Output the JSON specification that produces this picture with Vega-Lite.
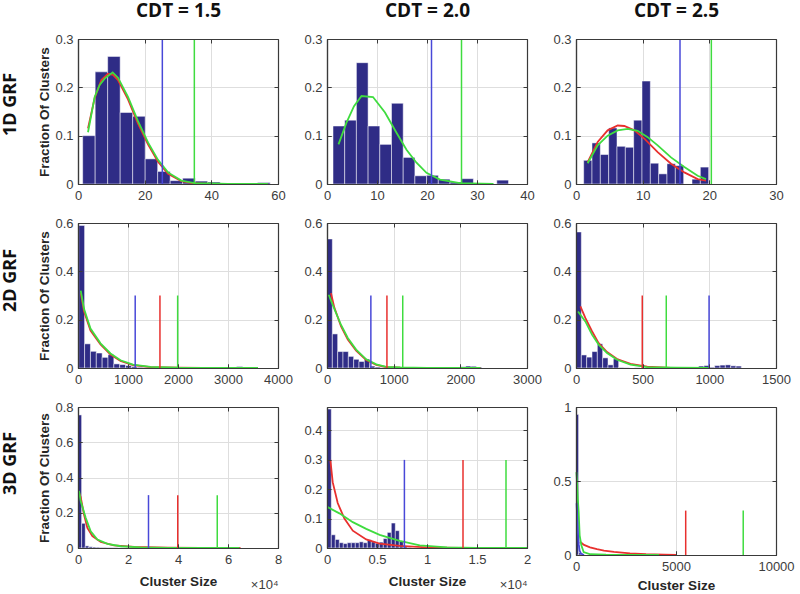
{
"$schema": "https://vega.github.io/schema/vega-lite/v6.json",
"background": "white",
"padding": {"left": 1, "top": 1, "right": 0, "bottom": 0},
"columns": 3,
"bounds": "flush",
"align": "each",
"center": {"row": true},
"spacing": {"row": 39, "column": 49},
"datasets": {
"bars": [
{"p":"A1","x0":1.4,"x1":5.15,"f":0.100},{"p":"A1","x0":5.15,"x1":8.9,"f":0.232},{"p":"A1","x0":8.9,"x1":12.65,"f":0.264},{"p":"A1","x0":12.65,"x1":16.4,"f":0.148},{"p":"A1","x0":16.4,"x1":20.15,"f":0.140},{"p":"A1","x0":20.15,"x1":23.9,"f":0.052},{"p":"A1","x0":23.9,"x1":27.65,"f":0.026},{"p":"A1","x0":27.65,"x1":31.4,"f":0.007},{"p":"A1","x0":31.4,"x1":35.15,"f":0.012},{"p":"A1","x0":35.15,"x1":38.9,"f":0.006},{"p":"A1","x0":38.9,"x1":42.65,"f":0.004},{"p":"A1","x0":42.65,"x1":46.4,"f":0.001},{"p":"A1","x0":46.4,"x1":50.15,"f":0.002},{"p":"A1","x0":53.9,"x1":57.65,"f":0.003},
{"p":"A2","x0":1.2,"x1":3.54,"f":0.120},{"p":"A2","x0":3.54,"x1":5.88,"f":0.132},{"p":"A2","x0":5.88,"x1":8.22,"f":0.251},{"p":"A2","x0":8.22,"x1":10.56,"f":0.120},{"p":"A2","x0":10.56,"x1":12.9,"f":0.082},{"p":"A2","x0":12.9,"x1":15.24,"f":0.167},{"p":"A2","x0":15.24,"x1":17.58,"f":0.055},{"p":"A2","x0":17.58,"x1":19.92,"f":0.017},{"p":"A2","x0":19.92,"x1":22.26,"f":0.018},{"p":"A2","x0":22.26,"x1":24.6,"f":0.010},{"p":"A2","x0":24.6,"x1":26.94,"f":0.004},{"p":"A2","x0":26.94,"x1":29.28,"f":0.011},{"p":"A2","x0":29.28,"x1":31.62,"f":0.002},{"p":"A2","x0":33.96,"x1":36.3,"f":0.008},
{"p":"A3","x0":1.15,"x1":2.4,"f":0.049},{"p":"A3","x0":2.4,"x1":3.65,"f":0.085},{"p":"A3","x0":3.65,"x1":4.9,"f":0.061},{"p":"A3","x0":4.9,"x1":6.15,"f":0.116},{"p":"A3","x0":6.15,"x1":7.4,"f":0.078},{"p":"A3","x0":7.4,"x1":8.65,"f":0.076},{"p":"A3","x0":8.65,"x1":9.9,"f":0.132},{"p":"A3","x0":9.9,"x1":11.15,"f":0.213},{"p":"A3","x0":11.15,"x1":12.4,"f":0.043},{"p":"A3","x0":12.4,"x1":13.65,"f":0.021},{"p":"A3","x0":13.65,"x1":14.9,"f":0.042},{"p":"A3","x0":14.9,"x1":16.15,"f":0.038},{"p":"A3","x0":17.4,"x1":18.65,"f":0.010},{"p":"A3","x0":18.65,"x1":19.9,"f":0.035},
{"p":"B1","x0":15,"x1":132,"f":0.59},{"p":"B1","x0":132,"x1":249,"f":0.100},{"p":"B1","x0":249,"x1":366,"f":0.069},{"p":"B1","x0":366,"x1":483,"f":0.062},{"p":"B1","x0":483,"x1":600,"f":0.044},{"p":"B1","x0":600,"x1":717,"f":0.055},{"p":"B1","x0":717,"x1":834,"f":0.017},{"p":"B1","x0":834,"x1":951,"f":0.014},{"p":"B1","x0":951,"x1":1068,"f":0.010},{"p":"B1","x0":1068,"x1":1185,"f":0.006},{"p":"B1","x0":1185,"x1":1302,"f":0.003},{"p":"B1","x0":1302,"x1":1419,"f":0.002},{"p":"B1","x0":1419,"x1":1536,"f":0.001},{"p":"B1","x0":1536,"x1":1653,"f":0.001},{"p":"B1","x0":1653,"x1":1770,"f":0.001},{"p":"B1","x0":1887,"x1":2004,"f":0.001},{"p":"B1","x0":2121,"x1":2238,"f":0.004},{"p":"B1","x0":2238,"x1":2355,"f":0.003},{"p":"B1","x0":2355,"x1":2472,"f":0.001},{"p":"B1","x0":2706,"x1":2823,"f":0.001},{"p":"B1","x0":3057,"x1":3174,"f":0.001},{"p":"B1","x0":3174,"x1":3291,"f":0.006},{"p":"B1","x0":3291,"x1":3408,"f":0.002},{"p":"B1","x0":3408,"x1":3525,"f":0.001},
{"p":"B2","x0":0,"x1":80,"f":0.534},{"p":"B2","x0":80,"x1":160,"f":0.141},{"p":"B2","x0":160,"x1":240,"f":0.068},{"p":"B2","x0":240,"x1":320,"f":0.068},{"p":"B2","x0":320,"x1":400,"f":0.048},{"p":"B2","x0":400,"x1":480,"f":0.036},{"p":"B2","x0":480,"x1":560,"f":0.027},{"p":"B2","x0":560,"x1":640,"f":0.037},{"p":"B2","x0":640,"x1":720,"f":0.008},{"p":"B2","x0":720,"x1":800,"f":0.004},{"p":"B2","x0":800,"x1":880,"f":0.002},{"p":"B2","x0":880,"x1":960,"f":0.003},{"p":"B2","x0":960,"x1":1040,"f":0.001},{"p":"B2","x0":1040,"x1":1120,"f":0.001},{"p":"B2","x0":1200,"x1":1280,"f":0.001},{"p":"B2","x0":1440,"x1":1520,"f":0.001},{"p":"B2","x0":1760,"x1":1840,"f":0.003},{"p":"B2","x0":1840,"x1":1920,"f":0.001},{"p":"B2","x0":1920,"x1":2000,"f":0.002},{"p":"B2","x0":2000,"x1":2080,"f":0.005},{"p":"B2","x0":2080,"x1":2160,"f":0.008},{"p":"B2","x0":2160,"x1":2240,"f":0.007},{"p":"B2","x0":2240,"x1":2320,"f":0.004},
{"p":"B3","x0":0,"x1":40,"f":0.563},{"p":"B3","x0":40,"x1":80,"f":0.054},{"p":"B3","x0":80,"x1":120,"f":0.045},{"p":"B3","x0":120,"x1":160,"f":0.068},{"p":"B3","x0":160,"x1":200,"f":0.100},{"p":"B3","x0":200,"x1":240,"f":0.042},{"p":"B3","x0":240,"x1":280,"f":0.013},{"p":"B3","x0":280,"x1":320,"f":0.038},{"p":"B3","x0":320,"x1":360,"f":0.002},{"p":"B3","x0":360,"x1":400,"f":0.001},{"p":"B3","x0":440,"x1":480,"f":0.001},{"p":"B3","x0":600,"x1":640,"f":0.001},{"p":"B3","x0":920,"x1":960,"f":0.008},{"p":"B3","x0":960,"x1":1000,"f":0.010},{"p":"B3","x0":1000,"x1":1040,"f":0.003},{"p":"B3","x0":1040,"x1":1080,"f":0.010},{"p":"B3","x0":1080,"x1":1120,"f":0.012},{"p":"B3","x0":1120,"x1":1160,"f":0.013},{"p":"B3","x0":1160,"x1":1200,"f":0.009},{"p":"B3","x0":1200,"x1":1240,"f":0.008},
{"p":"C1","x0":0,"x1":1450,"f":0.755},{"p":"C1","x0":1450,"x1":2900,"f":0.140},{"p":"C1","x0":2900,"x1":4350,"f":0.012},{"p":"C1","x0":4350,"x1":5800,"f":0.007},{"p":"C1","x0":5800,"x1":7250,"f":0.005},{"p":"C1","x0":7250,"x1":8700,"f":0.004},{"p":"C1","x0":8700,"x1":10150,"f":0.003},{"p":"C1","x0":10150,"x1":11600,"f":0.003},{"p":"C1","x0":11600,"x1":13050,"f":0.002},{"p":"C1","x0":13050,"x1":14500,"f":0.002},{"p":"C1","x0":14500,"x1":15950,"f":0.002},{"p":"C1","x0":15950,"x1":17400,"f":0.001},{"p":"C1","x0":17400,"x1":18850,"f":0.001},{"p":"C1","x0":43500,"x1":44950,"f":0.002},
{"p":"C2","x0":30,"x1":430,"f":0.473},{"p":"C2","x0":430,"x1":830,"f":0.045},{"p":"C2","x0":830,"x1":1230,"f":0.029},{"p":"C2","x0":1230,"x1":1630,"f":0.018},{"p":"C2","x0":1630,"x1":2030,"f":0.015},{"p":"C2","x0":2030,"x1":2430,"f":0.018},{"p":"C2","x0":2430,"x1":2830,"f":0.018},{"p":"C2","x0":2830,"x1":3230,"f":0.018},{"p":"C2","x0":3230,"x1":3630,"f":0.021},{"p":"C2","x0":3630,"x1":4030,"f":0.018},{"p":"C2","x0":4030,"x1":4430,"f":0.028},{"p":"C2","x0":4430,"x1":4830,"f":0.021},{"p":"C2","x0":4830,"x1":5230,"f":0.016},{"p":"C2","x0":5230,"x1":5630,"f":0.020},{"p":"C2","x0":5630,"x1":6030,"f":0.032},{"p":"C2","x0":6030,"x1":6430,"f":0.053},{"p":"C2","x0":6430,"x1":6830,"f":0.085},{"p":"C2","x0":6830,"x1":7230,"f":0.059},{"p":"C2","x0":7230,"x1":7630,"f":0.024},{"p":"C2","x0":7630,"x1":8030,"f":0.005},{"p":"C2","x0":8030,"x1":8430,"f":0.002},
{"p":"C3","x0":0,"x1":130,"f":0.95},{"p":"C3","x0":130,"x1":260,"f":0.015},{"p":"C3","x0":260,"x1":390,"f":0.005}
],
"curves": [
{"p":"A1","s":"red","x":3,"y":0.115},{"p":"A1","s":"red","x":5,"y":0.178},{"p":"A1","s":"red","x":7,"y":0.215},{"p":"A1","s":"red","x":9,"y":0.228},{"p":"A1","s":"red","x":10.5,"y":0.226},{"p":"A1","s":"red","x":12,"y":0.215},{"p":"A1","s":"red","x":15,"y":0.175},{"p":"A1","s":"red","x":18,"y":0.125},{"p":"A1","s":"red","x":21,"y":0.082},{"p":"A1","s":"red","x":24,"y":0.046},{"p":"A1","s":"red","x":27,"y":0.021},{"p":"A1","s":"red","x":31,"y":0.006},{"p":"A1","s":"red","x":35,"y":0.001},{"p":"A1","s":"red","x":40,"y":0},{"p":"A1","s":"red","x":57,"y":0},
{"p":"A1","s":"green","x":3,"y":0.107},{"p":"A1","s":"green","x":5,"y":0.18},{"p":"A1","s":"green","x":6.5,"y":0.205},{"p":"A1","s":"green","x":8,"y":0.218},{"p":"A1","s":"green","x":10.4,"y":0.231},{"p":"A1","s":"green","x":12,"y":0.22},{"p":"A1","s":"green","x":15,"y":0.18},{"p":"A1","s":"green","x":18,"y":0.13},{"p":"A1","s":"green","x":21,"y":0.086},{"p":"A1","s":"green","x":24,"y":0.05},{"p":"A1","s":"green","x":27,"y":0.024},{"p":"A1","s":"green","x":31,"y":0.007},{"p":"A1","s":"green","x":35,"y":0.002},{"p":"A1","s":"green","x":40,"y":0.001},{"p":"A1","s":"green","x":45,"y":0},{"p":"A1","s":"green","x":57,"y":0},
{"p":"A2","s":"green","x":2.3,"y":0.082},{"p":"A2","s":"green","x":3.9,"y":0.127},{"p":"A2","s":"green","x":5.4,"y":0.161},{"p":"A2","s":"green","x":6.9,"y":0.182},{"p":"A2","s":"green","x":9.2,"y":0.18},{"p":"A2","s":"green","x":11.6,"y":0.148},{"p":"A2","s":"green","x":13.9,"y":0.106},{"p":"A2","s":"green","x":15.9,"y":0.071},{"p":"A2","s":"green","x":17.9,"y":0.044},{"p":"A2","s":"green","x":19.9,"y":0.023},{"p":"A2","s":"green","x":22.6,"y":0.009},{"p":"A2","s":"green","x":26.6,"y":0.002},{"p":"A2","s":"green","x":33.3,"y":0},
{"p":"A3","s":"red","x":1.75,"y":0.045},{"p":"A3","s":"red","x":3.25,"y":0.087},{"p":"A3","s":"red","x":4.75,"y":0.111},{"p":"A3","s":"red","x":6.25,"y":0.121},{"p":"A3","s":"red","x":7.25,"y":0.12},{"p":"A3","s":"red","x":8.75,"y":0.111},{"p":"A3","s":"red","x":10.25,"y":0.094},{"p":"A3","s":"red","x":12.25,"y":0.066},{"p":"A3","s":"red","x":14.25,"y":0.042},{"p":"A3","s":"red","x":16.25,"y":0.024},{"p":"A3","s":"red","x":18.25,"y":0.01},{"p":"A3","s":"red","x":19.5,"y":0.007},
{"p":"A3","s":"green","x":1.75,"y":0.043},{"p":"A3","s":"green","x":3.25,"y":0.08},{"p":"A3","s":"green","x":4.75,"y":0.1},{"p":"A3","s":"green","x":6.25,"y":0.111},{"p":"A3","s":"green","x":7.75,"y":0.114},{"p":"A3","s":"green","x":9.25,"y":0.11},{"p":"A3","s":"green","x":10.75,"y":0.097},{"p":"A3","s":"green","x":12.25,"y":0.08},{"p":"A3","s":"green","x":14.25,"y":0.055},{"p":"A3","s":"green","x":16.25,"y":0.035},{"p":"A3","s":"green","x":18.25,"y":0.017},{"p":"A3","s":"green","x":19.5,"y":0.01},
{"p":"B1","s":"red","x":55,"y":0.31},{"p":"B1","s":"red","x":120,"y":0.235},{"p":"B1","s":"red","x":250,"y":0.155},{"p":"B1","s":"red","x":450,"y":0.098},{"p":"B1","s":"red","x":650,"y":0.056},{"p":"B1","s":"red","x":850,"y":0.029},{"p":"B1","s":"red","x":1100,"y":0.012},{"p":"B1","s":"red","x":1450,"y":0.004},{"p":"B1","s":"red","x":2000,"y":0.001},{"p":"B1","s":"red","x":2500,"y":0},{"p":"B1","s":"red","x":3600,"y":0},
{"p":"B1","s":"green","x":55,"y":0.32},{"p":"B1","s":"green","x":120,"y":0.245},{"p":"B1","s":"green","x":250,"y":0.163},{"p":"B1","s":"green","x":450,"y":0.102},{"p":"B1","s":"green","x":650,"y":0.06},{"p":"B1","s":"green","x":850,"y":0.032},{"p":"B1","s":"green","x":1100,"y":0.014},{"p":"B1","s":"green","x":1450,"y":0.005},{"p":"B1","s":"green","x":2000,"y":0.001},{"p":"B1","s":"green","x":2500,"y":0},{"p":"B1","s":"green","x":3600,"y":0},
{"p":"B2","s":"red","x":60,"y":0.31},{"p":"B2","s":"red","x":110,"y":0.25},{"p":"B2","s":"red","x":211,"y":0.172},{"p":"B2","s":"red","x":312,"y":0.118},{"p":"B2","s":"red","x":437,"y":0.072},{"p":"B2","s":"red","x":588,"y":0.033},{"p":"B2","s":"red","x":739,"y":0.013},{"p":"B2","s":"red","x":889,"y":0.004},{"p":"B2","s":"red","x":1100,"y":0.001},{"p":"B2","s":"red","x":1500,"y":0},{"p":"B2","s":"red","x":2300,"y":0},
{"p":"B2","s":"green","x":25,"y":0.303},{"p":"B2","s":"green","x":110,"y":0.245},{"p":"B2","s":"green","x":211,"y":0.178},{"p":"B2","s":"green","x":312,"y":0.124},{"p":"B2","s":"green","x":437,"y":0.076},{"p":"B2","s":"green","x":588,"y":0.036},{"p":"B2","s":"green","x":739,"y":0.015},{"p":"B2","s":"green","x":889,"y":0.005},{"p":"B2","s":"green","x":1100,"y":0.002},{"p":"B2","s":"green","x":1500,"y":0},{"p":"B2","s":"green","x":2300,"y":0},
{"p":"B3","s":"red","x":33,"y":0.255},{"p":"B3","s":"red","x":70,"y":0.207},{"p":"B3","s":"red","x":120,"y":0.152},{"p":"B3","s":"red","x":170,"y":0.103},{"p":"B3","s":"red","x":233,"y":0.066},{"p":"B3","s":"red","x":308,"y":0.037},{"p":"B3","s":"red","x":409,"y":0.017},{"p":"B3","s":"red","x":534,"y":0.006},{"p":"B3","s":"red","x":710,"y":0},{"p":"B3","s":"red","x":1000,"y":0},
{"p":"B3","s":"green","x":15,"y":0.234},{"p":"B3","s":"green","x":70,"y":0.193},{"p":"B3","s":"green","x":120,"y":0.138},{"p":"B3","s":"green","x":170,"y":0.097},{"p":"B3","s":"green","x":233,"y":0.062},{"p":"B3","s":"green","x":308,"y":0.034},{"p":"B3","s":"green","x":409,"y":0.014},{"p":"B3","s":"green","x":534,"y":0.004},{"p":"B3","s":"green","x":750,"y":0.001},{"p":"B3","s":"green","x":1000,"y":0},
{"p":"C1","s":"red","x":500,"y":0.31},{"p":"C1","s":"red","x":1070,"y":0.29},{"p":"C1","s":"red","x":2400,"y":0.19},{"p":"C1","s":"red","x":3750,"y":0.114},{"p":"C1","s":"red","x":5750,"y":0.067},{"p":"C1","s":"red","x":9100,"y":0.034},{"p":"C1","s":"red","x":14400,"y":0.015},{"p":"C1","s":"red","x":22500,"y":0.006},{"p":"C1","s":"red","x":36000,"y":0.002},{"p":"C1","s":"red","x":49000,"y":0},{"p":"C1","s":"red","x":65000,"y":0},
{"p":"C1","s":"green","x":400,"y":0.324},{"p":"C1","s":"green","x":1070,"y":0.267},{"p":"C1","s":"green","x":3080,"y":0.171},{"p":"C1","s":"green","x":5080,"y":0.095},{"p":"C1","s":"green","x":7760,"y":0.048},{"p":"C1","s":"green","x":11800,"y":0.023},{"p":"C1","s":"green","x":17100,"y":0.01},{"p":"C1","s":"green","x":25000,"y":0.004},{"p":"C1","s":"green","x":36000,"y":0.001},{"p":"C1","s":"green","x":50000,"y":0},{"p":"C1","s":"green","x":64600,"y":0},
{"p":"C2","s":"red","x":335,"y":0.3},{"p":"C2","s":"red","x":570,"y":0.224},{"p":"C2","s":"red","x":1070,"y":0.153},{"p":"C2","s":"red","x":1740,"y":0.1},{"p":"C2","s":"red","x":2580,"y":0.059},{"p":"C2","s":"red","x":3920,"y":0.029},{"p":"C2","s":"red","x":5260,"y":0.015},{"p":"C2","s":"red","x":7270,"y":0.007},{"p":"C2","s":"red","x":9950,"y":0.002},{"p":"C2","s":"red","x":13300,"y":0},{"p":"C2","s":"red","x":20000,"y":0},
{"p":"C2","s":"green","x":70,"y":0.139},{"p":"C2","s":"green","x":1240,"y":0.118},{"p":"C2","s":"green","x":2580,"y":0.088},{"p":"C2","s":"green","x":3920,"y":0.065},{"p":"C2","s":"green","x":5260,"y":0.045},{"p":"C2","s":"green","x":7270,"y":0.024},{"p":"C2","s":"green","x":9280,"y":0.009},{"p":"C2","s":"green","x":12000,"y":0.002},{"p":"C2","s":"green","x":15000,"y":0},{"p":"C2","s":"green","x":20000,"y":0},
{"p":"C3","s":"red","x":200,"y":0.09},{"p":"C3","s":"red","x":400,"y":0.068},{"p":"C3","s":"red","x":700,"y":0.052},{"p":"C3","s":"red","x":1050,"y":0.04},{"p":"C3","s":"red","x":1400,"y":0.03},{"p":"C3","s":"red","x":1900,"y":0.021},{"p":"C3","s":"red","x":2700,"y":0.011},{"p":"C3","s":"red","x":3500,"y":0.005},{"p":"C3","s":"red","x":4400,"y":0.002},{"p":"C3","s":"red","x":5000,"y":0},
{"p":"C3","s":"green","x":20,"y":0.56},{"p":"C3","s":"green","x":50,"y":0.5},{"p":"C3","s":"green","x":90,"y":0.38},{"p":"C3","s":"green","x":133,"y":0.29},{"p":"C3","s":"green","x":183,"y":0.133},{"p":"C3","s":"green","x":267,"y":0.065},{"p":"C3","s":"green","x":383,"y":0.02},{"p":"C3","s":"green","x":717,"y":0.005},{"p":"C3","s":"green","x":1500,"y":0.002},{"p":"C3","s":"green","x":4150,"y":0},
{"p":"C3","s":"blue","x":30,"y":0.35},{"p":"C3","s":"blue","x":60,"y":0.25},{"p":"C3","s":"blue","x":100,"y":0.14},{"p":"C3","s":"blue","x":140,"y":0.07},{"p":"C3","s":"blue","x":180,"y":0.03},{"p":"C3","s":"blue","x":250,"y":0.01},{"p":"C3","s":"blue","x":400,"y":0}
],
"vlines": [
{"p":"A1","c":"blue","x":25.3},{"p":"A1","c":"green","x":34.9},
{"p":"A2","c":"blue","x":20.9},{"p":"A2","c":"green","x":26.9},
{"p":"A3","c":"blue","x":15.6},{"p":"A3","c":"green","x":20.3},
{"p":"B1","c":"blue","x":1144},{"p":"B1","c":"red","x":1639},{"p":"B1","c":"green","x":1993},
{"p":"B2","c":"blue","x":658},{"p":"B2","c":"red","x":899},{"p":"B2","c":"green","x":1136},
{"p":"B3","c":"red","x":497},{"p":"B3","c":"green","x":677},{"p":"B3","c":"blue","x":998},
{"p":"C1","c":"blue","x":28200},{"p":"C1","c":"red","x":39900},{"p":"C1","c":"green","x":55700},
{"p":"C2","c":"blue","x":7740},{"p":"C2","c":"red","x":13600},{"p":"C2","c":"green","x":17900},
{"p":"C3","c":"red","x":5485},{"p":"C3","c":"green","x":8361}
]
},
"concat": [
{"width":200,"height":145,
 "title":{"text":"1D GRF","orient":"left","anchor":"middle","frame":"group","font":"Open Sans","fontSize":18,"fontWeight":"bold","color":"#111111","offset":18,"dx":7},
 "resolve":{"axis":{"x":"independent","y":"independent"}},
 "layer":[
  {"data":{"name":"bars"},"transform":[{"filter":"datum.p == 'A1'"}],"mark":{"type":"rect","fill":"#2f2c86","stroke":"#ffffff","strokeWidth":0.5},
   "encoding":{"x":{"field":"x0","type":"quantitative","scale":{"domain":[0,60],"nice":false,"zero":false},"axis":{"orient":"bottom","values":[0,20,40,60],"labelExpr":"'' + datum.value","grid":true,"title":null}},"x2":{"field":"x1"},
    "y":{"field":"f","type":"quantitative","scale":{"domain":[0,0.3],"nice":false},"axis":{"orient":"left","values":[0,0.1,0.2,0.3],"labelExpr":"'' + datum.value","grid":true,"title":"Fraction Of Clusters"}},"y2":{"datum":0}}},
  {"data":{"name":"curves"},"transform":[{"filter":"datum.p == 'A1'"}],"mark":{"type":"line","strokeWidth":1.8},
   "encoding":{"x":{"field":"x","type":"quantitative","scale":{"domain":[0,60],"nice":false,"zero":false},"axis":{"orient":"top","values":[0,20,40,60],"labels":false,"grid":false,"zindex":1,"title":"CDT = 1.5","titleFont":"Open Sans","titleFontSize":19,"titleColor":"#111111","titlePadding":18}},
    "y":{"field":"y","type":"quantitative","scale":{"domain":[0,0.3],"nice":false},"axis":{"orient":"right","values":[0,0.1,0.2,0.3],"labels":false,"grid":false,"zindex":1,"title":null}},
    "color":{"field":"s","type":"nominal","scale":{"domain":["red","green","blue"],"range":["#e8302e","#3fdc3f","#4848d8"]},"legend":null}}},
  {"data":{"name":"vlines"},"transform":[{"filter":"datum.p == 'A1'"}],"mark":{"type":"rule","strokeWidth":1.5},
   "encoding":{"x":{"field":"x","type":"quantitative","scale":{"domain":[0,60],"nice":false,"zero":false},"axis":{"orient":"bottom","values":[0,20,40,60],"labels":false,"grid":false,"zindex":1,"title":null}},
    "y":{"datum":0,"type":"quantitative","scale":{"domain":[0,0.3],"nice":false},"axis":{"orient":"left","values":[0,0.1,0.2,0.3],"labels":false,"grid":false,"zindex":1,"title":null}},"y2":{"datum":0.3},
    "color":{"field":"c","type":"nominal","scale":{"domain":["red","green","blue"],"range":["#e8302e","#3fdc3f","#4848d8"]},"legend":null}}}
 ]},
{"width":200,"height":145,
 "resolve":{"axis":{"x":"independent","y":"independent"}},
 "layer":[
  {"data":{"name":"bars"},"transform":[{"filter":"datum.p == 'A2'"}],"mark":{"type":"rect","fill":"#2f2c86","stroke":"#ffffff","strokeWidth":0.5},
   "encoding":{"x":{"field":"x0","type":"quantitative","scale":{"domain":[0,40],"nice":false,"zero":false},"axis":{"orient":"bottom","values":[0,10,20,30,40],"labelExpr":"'' + datum.value","grid":true,"title":null}},"x2":{"field":"x1"},
    "y":{"field":"f","type":"quantitative","scale":{"domain":[0,0.3],"nice":false},"axis":{"orient":"left","values":[0,0.1,0.2,0.3],"labelExpr":"'' + datum.value","grid":true,"title":null}},"y2":{"datum":0}}},
  {"data":{"name":"curves"},"transform":[{"filter":"datum.p == 'A2'"}],"mark":{"type":"line","strokeWidth":1.8},
   "encoding":{"x":{"field":"x","type":"quantitative","scale":{"domain":[0,40],"nice":false,"zero":false},"axis":{"orient":"top","values":[0,10,20,30,40],"labels":false,"grid":false,"zindex":1,"title":"CDT = 2.0","titleFont":"Open Sans","titleFontSize":19,"titleColor":"#111111","titlePadding":18}},
    "y":{"field":"y","type":"quantitative","scale":{"domain":[0,0.3],"nice":false},"axis":{"orient":"right","values":[0,0.1,0.2,0.3],"labels":false,"grid":false,"zindex":1,"title":null}},
    "color":{"field":"s","type":"nominal","scale":{"domain":["red","green","blue"],"range":["#e8302e","#3fdc3f","#4848d8"]},"legend":null}}},
  {"data":{"name":"vlines"},"transform":[{"filter":"datum.p == 'A2'"}],"mark":{"type":"rule","strokeWidth":1.5},
   "encoding":{"x":{"field":"x","type":"quantitative","scale":{"domain":[0,40],"nice":false,"zero":false},"axis":{"orient":"bottom","values":[0,10,20,30,40],"labels":false,"grid":false,"zindex":1,"title":null}},
    "y":{"datum":0,"type":"quantitative","scale":{"domain":[0,0.3],"nice":false},"axis":{"orient":"left","values":[0,0.1,0.2,0.3],"labels":false,"grid":false,"zindex":1,"title":null}},"y2":{"datum":0.3},
    "color":{"field":"c","type":"nominal","scale":{"domain":["red","green","blue"],"range":["#e8302e","#3fdc3f","#4848d8"]},"legend":null}}}
 ]},
{"width":200,"height":145,
 "resolve":{"axis":{"x":"independent","y":"independent"}},
 "layer":[
  {"data":{"name":"bars"},"transform":[{"filter":"datum.p == 'A3'"}],"mark":{"type":"rect","fill":"#2f2c86","stroke":"#ffffff","strokeWidth":0.5},
   "encoding":{"x":{"field":"x0","type":"quantitative","scale":{"domain":[0,30],"nice":false,"zero":false},"axis":{"orient":"bottom","values":[0,10,20,30],"labelExpr":"'' + datum.value","grid":true,"title":null}},"x2":{"field":"x1"},
    "y":{"field":"f","type":"quantitative","scale":{"domain":[0,0.3],"nice":false},"axis":{"orient":"left","values":[0,0.1,0.2,0.3],"labelExpr":"'' + datum.value","grid":true,"title":null}},"y2":{"datum":0}}},
  {"data":{"name":"curves"},"transform":[{"filter":"datum.p == 'A3'"}],"mark":{"type":"line","strokeWidth":1.8},
   "encoding":{"x":{"field":"x","type":"quantitative","scale":{"domain":[0,30],"nice":false,"zero":false},"axis":{"orient":"top","values":[0,10,20,30],"labels":false,"grid":false,"zindex":1,"title":"CDT = 2.5","titleFont":"Open Sans","titleFontSize":19,"titleColor":"#111111","titlePadding":18}},
    "y":{"field":"y","type":"quantitative","scale":{"domain":[0,0.3],"nice":false},"axis":{"orient":"right","values":[0,0.1,0.2,0.3],"labels":false,"grid":false,"zindex":1,"title":null}},
    "color":{"field":"s","type":"nominal","scale":{"domain":["red","green","blue"],"range":["#e8302e","#3fdc3f","#4848d8"]},"legend":null}}},
  {"data":{"name":"vlines"},"transform":[{"filter":"datum.p == 'A3'"}],"mark":{"type":"rule","strokeWidth":1.5},
   "encoding":{"x":{"field":"x","type":"quantitative","scale":{"domain":[0,30],"nice":false,"zero":false},"axis":{"orient":"bottom","values":[0,10,20,30],"labels":false,"grid":false,"zindex":1,"title":null}},
    "y":{"datum":0,"type":"quantitative","scale":{"domain":[0,0.3],"nice":false},"axis":{"orient":"left","values":[0,0.1,0.2,0.3],"labels":false,"grid":false,"zindex":1,"title":null}},"y2":{"datum":0.3},
    "color":{"field":"c","type":"nominal","scale":{"domain":["red","green","blue"],"range":["#e8302e","#3fdc3f","#4848d8"]},"legend":null}}}
 ]},
{"width":200,"height":145,
 "title":{"text":"2D GRF","orient":"left","anchor":"middle","frame":"group","font":"Open Sans","fontSize":18,"fontWeight":"bold","color":"#111111","offset":18,"dx":15},
 "resolve":{"axis":{"x":"independent","y":"independent"}},
 "layer":[
  {"data":{"name":"bars"},"transform":[{"filter":"datum.p == 'B1'"}],"mark":{"type":"rect","fill":"#2f2c86","stroke":"#ffffff","strokeWidth":0.5},
   "encoding":{"x":{"field":"x0","type":"quantitative","scale":{"domain":[0,4000],"nice":false,"zero":false},"axis":{"orient":"bottom","values":[0,1000,2000,3000,4000],"labelExpr":"'' + datum.value","grid":true,"title":null}},"x2":{"field":"x1"},
    "y":{"field":"f","type":"quantitative","scale":{"domain":[0,0.6],"nice":false},"axis":{"orient":"left","values":[0,0.2,0.4,0.6],"labelExpr":"'' + datum.value","grid":true,"title":"Fraction Of Clusters"}},"y2":{"datum":0}}},
  {"data":{"name":"curves"},"transform":[{"filter":"datum.p == 'B1'"}],"mark":{"type":"line","strokeWidth":1.8},
   "encoding":{"x":{"field":"x","type":"quantitative","scale":{"domain":[0,4000],"nice":false,"zero":false},"axis":{"orient":"top","values":[0,1000,2000,3000,4000],"labels":false,"grid":false,"zindex":1,"title":null}},
    "y":{"field":"y","type":"quantitative","scale":{"domain":[0,0.6],"nice":false},"axis":{"orient":"right","values":[0,0.2,0.4,0.6],"labels":false,"grid":false,"zindex":1,"title":null}},
    "color":{"field":"s","type":"nominal","scale":{"domain":["red","green","blue"],"range":["#e8302e","#3fdc3f","#4848d8"]},"legend":null}}},
  {"data":{"name":"vlines"},"transform":[{"filter":"datum.p == 'B1'"}],"mark":{"type":"rule","strokeWidth":1.5},
   "encoding":{"x":{"field":"x","type":"quantitative","scale":{"domain":[0,4000],"nice":false,"zero":false},"axis":{"orient":"bottom","values":[0,1000,2000,3000,4000],"labels":false,"grid":false,"zindex":1,"title":null}},
    "y":{"datum":0,"type":"quantitative","scale":{"domain":[0,0.6],"nice":false},"axis":{"orient":"left","values":[0,0.2,0.4,0.6],"labels":false,"grid":false,"zindex":1,"title":null}},"y2":{"datum":0.3},
    "color":{"field":"c","type":"nominal","scale":{"domain":["red","green","blue"],"range":["#e8302e","#3fdc3f","#4848d8"]},"legend":null}}}
 ]},
{"width":200,"height":145,
 "resolve":{"axis":{"x":"independent","y":"independent"}},
 "layer":[
  {"data":{"name":"bars"},"transform":[{"filter":"datum.p == 'B2'"}],"mark":{"type":"rect","fill":"#2f2c86","stroke":"#ffffff","strokeWidth":0.5},
   "encoding":{"x":{"field":"x0","type":"quantitative","scale":{"domain":[0,3000],"nice":false,"zero":false},"axis":{"orient":"bottom","values":[0,1000,2000,3000],"labelExpr":"'' + datum.value","grid":true,"title":null}},"x2":{"field":"x1"},
    "y":{"field":"f","type":"quantitative","scale":{"domain":[0,0.6],"nice":false},"axis":{"orient":"left","values":[0,0.2,0.4,0.6],"labelExpr":"'' + datum.value","grid":true,"title":null}},"y2":{"datum":0}}},
  {"data":{"name":"curves"},"transform":[{"filter":"datum.p == 'B2'"}],"mark":{"type":"line","strokeWidth":1.8},
   "encoding":{"x":{"field":"x","type":"quantitative","scale":{"domain":[0,3000],"nice":false,"zero":false},"axis":{"orient":"top","values":[0,1000,2000,3000],"labels":false,"grid":false,"zindex":1,"title":null}},
    "y":{"field":"y","type":"quantitative","scale":{"domain":[0,0.6],"nice":false},"axis":{"orient":"right","values":[0,0.2,0.4,0.6],"labels":false,"grid":false,"zindex":1,"title":null}},
    "color":{"field":"s","type":"nominal","scale":{"domain":["red","green","blue"],"range":["#e8302e","#3fdc3f","#4848d8"]},"legend":null}}},
  {"data":{"name":"vlines"},"transform":[{"filter":"datum.p == 'B2'"}],"mark":{"type":"rule","strokeWidth":1.5},
   "encoding":{"x":{"field":"x","type":"quantitative","scale":{"domain":[0,3000],"nice":false,"zero":false},"axis":{"orient":"bottom","values":[0,1000,2000,3000],"labels":false,"grid":false,"zindex":1,"title":null}},
    "y":{"datum":0,"type":"quantitative","scale":{"domain":[0,0.6],"nice":false},"axis":{"orient":"left","values":[0,0.2,0.4,0.6],"labels":false,"grid":false,"zindex":1,"title":null}},"y2":{"datum":0.3},
    "color":{"field":"c","type":"nominal","scale":{"domain":["red","green","blue"],"range":["#e8302e","#3fdc3f","#4848d8"]},"legend":null}}}
 ]},
{"width":200,"height":145,
 "resolve":{"axis":{"x":"independent","y":"independent"}},
 "layer":[
  {"data":{"name":"bars"},"transform":[{"filter":"datum.p == 'B3'"}],"mark":{"type":"rect","fill":"#2f2c86","stroke":"#ffffff","strokeWidth":0.5},
   "encoding":{"x":{"field":"x0","type":"quantitative","scale":{"domain":[0,1500],"nice":false,"zero":false},"axis":{"orient":"bottom","values":[0,500,1000,1500],"labelExpr":"'' + datum.value","grid":true,"title":null}},"x2":{"field":"x1"},
    "y":{"field":"f","type":"quantitative","scale":{"domain":[0,0.6],"nice":false},"axis":{"orient":"left","values":[0,0.2,0.4,0.6],"labelExpr":"'' + datum.value","grid":true,"title":null}},"y2":{"datum":0}}},
  {"data":{"name":"curves"},"transform":[{"filter":"datum.p == 'B3'"}],"mark":{"type":"line","strokeWidth":1.8},
   "encoding":{"x":{"field":"x","type":"quantitative","scale":{"domain":[0,1500],"nice":false,"zero":false},"axis":{"orient":"top","values":[0,500,1000,1500],"labels":false,"grid":false,"zindex":1,"title":null}},
    "y":{"field":"y","type":"quantitative","scale":{"domain":[0,0.6],"nice":false},"axis":{"orient":"right","values":[0,0.2,0.4,0.6],"labels":false,"grid":false,"zindex":1,"title":null}},
    "color":{"field":"s","type":"nominal","scale":{"domain":["red","green","blue"],"range":["#e8302e","#3fdc3f","#4848d8"]},"legend":null}}},
  {"data":{"name":"vlines"},"transform":[{"filter":"datum.p == 'B3'"}],"mark":{"type":"rule","strokeWidth":1.5},
   "encoding":{"x":{"field":"x","type":"quantitative","scale":{"domain":[0,1500],"nice":false,"zero":false},"axis":{"orient":"bottom","values":[0,500,1000,1500],"labels":false,"grid":false,"zindex":1,"title":null}},
    "y":{"datum":0,"type":"quantitative","scale":{"domain":[0,0.6],"nice":false},"axis":{"orient":"left","values":[0,0.2,0.4,0.6],"labels":false,"grid":false,"zindex":1,"title":null}},"y2":{"datum":0.3},
    "color":{"field":"c","type":"nominal","scale":{"domain":["red","green","blue"],"range":["#e8302e","#3fdc3f","#4848d8"]},"legend":null}}}
 ]},
{"width":200,"height":141,
 "title":{"text":"3D GRF","orient":"left","anchor":"middle","frame":"group","font":"Open Sans","fontSize":18,"fontWeight":"bold","color":"#111111","offset":18,"dx":14},
 "resolve":{"axis":{"x":"independent","y":"independent"}},
 "layer":[
  {"data":{"name":"bars"},"transform":[{"filter":"datum.p == 'C1'"}],"mark":{"type":"rect","fill":"#2f2c86","stroke":"#ffffff","strokeWidth":0.5},
   "encoding":{"x":{"field":"x0","type":"quantitative","scale":{"domain":[0,80000],"nice":false,"zero":false},"axis":{"orient":"bottom","values":[0,20000,40000,60000,80000],"labelExpr":"'' + (datum.value / 10000)","grid":true,"title":"Cluster Size","titleY":37,"titleBaseline":"alphabetic"}},"x2":{"field":"x1"},
    "y":{"field":"f","type":"quantitative","scale":{"domain":[0,0.8],"nice":false},"axis":{"orient":"left","values":[0,0.2,0.4,0.6,0.8],"labelExpr":"'' + datum.value","grid":true,"title":"Fraction Of Clusters"}},"y2":{"datum":0}}},
  {"data":{"name":"curves"},"transform":[{"filter":"datum.p == 'C1'"}],"mark":{"type":"line","strokeWidth":1.8},
   "encoding":{"x":{"field":"x","type":"quantitative","scale":{"domain":[0,80000],"nice":false,"zero":false},"axis":{"orient":"top","values":[0,20000,40000,60000,80000],"labels":false,"grid":false,"zindex":1,"title":null}},
    "y":{"field":"y","type":"quantitative","scale":{"domain":[0,0.8],"nice":false},"axis":{"orient":"right","values":[0,0.2,0.4,0.6,0.8],"labels":false,"grid":false,"zindex":1,"title":null}},
    "color":{"field":"s","type":"nominal","scale":{"domain":["red","green","blue"],"range":["#e8302e","#3fdc3f","#4848d8"]},"legend":null}}},
  {"data":{"name":"vlines"},"transform":[{"filter":"datum.p == 'C1'"}],"mark":{"type":"rule","strokeWidth":1.5},
   "encoding":{"x":{"field":"x","type":"quantitative","scale":{"domain":[0,80000],"nice":false,"zero":false},"axis":{"orient":"bottom","values":[0,20000,40000,60000,80000],"labels":false,"grid":false,"zindex":1,"title":"×10⁴","titleFontWeight":"normal","titleFontSize":13,"titleColor":"#3c3c3c","titleAnchor":"end","titleAlign":"right","titleBaseline":"alphabetic","titleY":40,"titleX":200}},
    "y":{"datum":0,"type":"quantitative","scale":{"domain":[0,0.8],"nice":false},"axis":{"orient":"left","values":[0,0.2,0.4,0.6,0.8],"labels":false,"grid":false,"zindex":1,"title":null}},"y2":{"datum":0.3},
    "color":{"field":"c","type":"nominal","scale":{"domain":["red","green","blue"],"range":["#e8302e","#3fdc3f","#4848d8"]},"legend":null}}}
 ]},
{"width":200,"height":141,
 "resolve":{"axis":{"x":"independent","y":"independent"}},
 "layer":[
  {"data":{"name":"bars"},"transform":[{"filter":"datum.p == 'C2'"}],"mark":{"type":"rect","fill":"#2f2c86","stroke":"#ffffff","strokeWidth":0.5},
   "encoding":{"x":{"field":"x0","type":"quantitative","scale":{"domain":[0,20000],"nice":false,"zero":false},"axis":{"orient":"bottom","values":[0,5000,10000,15000,20000],"labelExpr":"'' + (datum.value / 10000)","grid":true,"title":"Cluster Size","titleY":37,"titleBaseline":"alphabetic"}},"x2":{"field":"x1"},
    "y":{"field":"f","type":"quantitative","scale":{"domain":[0,0.48],"nice":false},"axis":{"orient":"left","values":[0,0.1,0.2,0.3,0.4],"labelExpr":"'' + datum.value","grid":true,"title":null}},"y2":{"datum":0}}},
  {"data":{"name":"curves"},"transform":[{"filter":"datum.p == 'C2'"}],"mark":{"type":"line","strokeWidth":1.8},
   "encoding":{"x":{"field":"x","type":"quantitative","scale":{"domain":[0,20000],"nice":false,"zero":false},"axis":{"orient":"top","values":[0,5000,10000,15000,20000],"labels":false,"grid":false,"zindex":1,"title":null}},
    "y":{"field":"y","type":"quantitative","scale":{"domain":[0,0.48],"nice":false},"axis":{"orient":"right","values":[0,0.1,0.2,0.3,0.4],"labels":false,"grid":false,"zindex":1,"title":null}},
    "color":{"field":"s","type":"nominal","scale":{"domain":["red","green","blue"],"range":["#e8302e","#3fdc3f","#4848d8"]},"legend":null}}},
  {"data":{"name":"vlines"},"transform":[{"filter":"datum.p == 'C2'"}],"mark":{"type":"rule","strokeWidth":1.5},
   "encoding":{"x":{"field":"x","type":"quantitative","scale":{"domain":[0,20000],"nice":false,"zero":false},"axis":{"orient":"bottom","values":[0,5000,10000,15000,20000],"labels":false,"grid":false,"zindex":1,"title":"×10⁴","titleFontWeight":"normal","titleFontSize":13,"titleColor":"#3c3c3c","titleAnchor":"end","titleAlign":"right","titleBaseline":"alphabetic","titleY":40,"titleX":200}},
    "y":{"datum":0,"type":"quantitative","scale":{"domain":[0,0.48],"nice":false},"axis":{"orient":"left","values":[0,0.1,0.2,0.3,0.4],"labels":false,"grid":false,"zindex":1,"title":null}},"y2":{"datum":0.3},
    "color":{"field":"c","type":"nominal","scale":{"domain":["red","green","blue"],"range":["#e8302e","#3fdc3f","#4848d8"]},"legend":null}}}
 ]},
{"width":200,"height":148,
 "resolve":{"axis":{"x":"independent","y":"independent"}},
 "layer":[
  {"data":{"name":"bars"},"transform":[{"filter":"datum.p == 'C3'"}],"mark":{"type":"rect","fill":"#2f2c86","stroke":"#ffffff","strokeWidth":0.5},
   "encoding":{"x":{"field":"x0","type":"quantitative","scale":{"domain":[0,10000],"nice":false,"zero":false},"axis":{"orient":"bottom","values":[0,5000,10000],"labelExpr":"'' + datum.value","grid":true,"title":"Cluster Size","titleY":34,"titleBaseline":"alphabetic"}},"x2":{"field":"x1"},
    "y":{"field":"f","type":"quantitative","scale":{"domain":[0,1],"nice":false},"axis":{"orient":"left","values":[0,0.5,1],"labelExpr":"'' + datum.value","grid":true,"title":null}},"y2":{"datum":0}}},
  {"data":{"name":"curves"},"transform":[{"filter":"datum.p == 'C3'"}],"mark":{"type":"line","strokeWidth":1.8},
   "encoding":{"x":{"field":"x","type":"quantitative","scale":{"domain":[0,10000],"nice":false,"zero":false},"axis":{"orient":"top","values":[0,5000,10000],"labels":false,"grid":false,"zindex":1,"title":null}},
    "y":{"field":"y","type":"quantitative","scale":{"domain":[0,1],"nice":false},"axis":{"orient":"right","values":[0,0.5,1],"labels":false,"grid":false,"zindex":1,"title":null}},
    "color":{"field":"s","type":"nominal","scale":{"domain":["red","green","blue"],"range":["#e8302e","#3fdc3f","#4848d8"]},"legend":null}}},
  {"data":{"name":"vlines"},"transform":[{"filter":"datum.p == 'C3'"}],"mark":{"type":"rule","strokeWidth":1.5},
   "encoding":{"x":{"field":"x","type":"quantitative","scale":{"domain":[0,10000],"nice":false,"zero":false},"axis":{"orient":"bottom","values":[0,5000,10000],"labels":false,"grid":false,"zindex":1,"title":null}},
    "y":{"datum":0,"type":"quantitative","scale":{"domain":[0,1],"nice":false},"axis":{"orient":"left","values":[0,0.5,1],"labels":false,"grid":false,"zindex":1,"title":null}},"y2":{"datum":0.3},
    "color":{"field":"c","type":"nominal","scale":{"domain":["red","green","blue"],"range":["#e8302e","#3fdc3f","#4848d8"]},"legend":null}}}
 ]}
],
"config": {
 "view": {"stroke": null},
 "axis": {"labelFont": "Liberation Sans", "labelFontSize": 13, "labelColor": "#3c3c3c", "labelFlush": false, "labelOverlap": false, "labelBound": false,
  "titleFont": "Liberation Sans", "titleFontSize": 13.5, "titleFontWeight": "bold", "titleColor": "#262626", "titlePadding": 3,
  "domainColor": "#3a3a3a", "domainWidth": 1.2, "tickColor": "#3a3a3a", "tickSize": -4, "tickWidth": 1,
  "gridColor": "#dedede", "gridWidth": 1, "gridOpacity": 1, "labelPadding": 9, "zindex": 0}
}
}
